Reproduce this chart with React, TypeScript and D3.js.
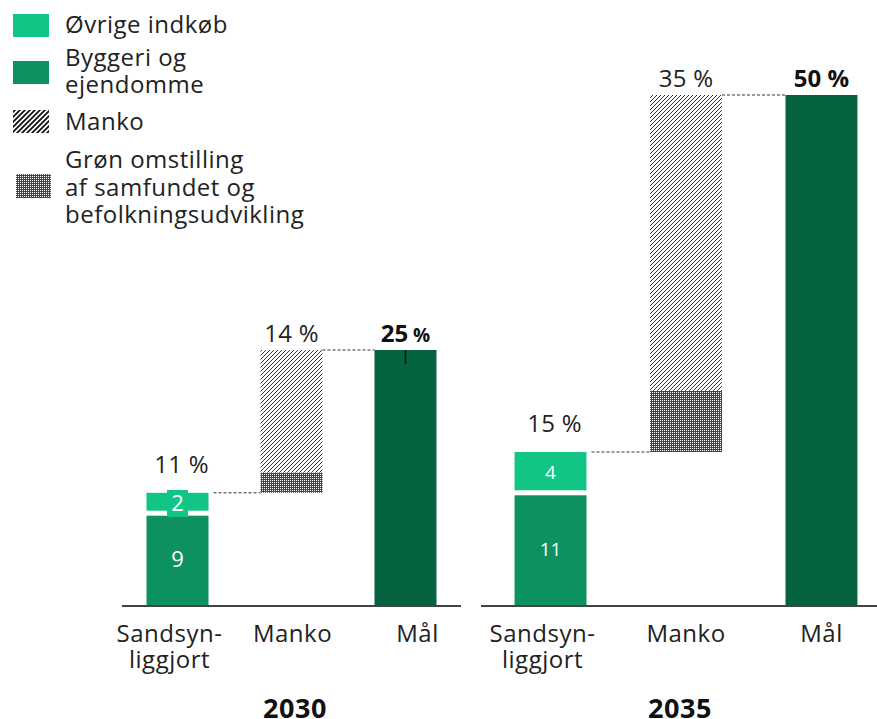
import React from 'react';
import * as d3 from 'd3';

const years = ['2030', '2035'];
const categories = ['Sandsynliggjort', 'Manko', 'Mål'];
const categoryLines = [['Sandsyn-', 'liggjort'], ['Manko'], ['Mål']];
const byggeri = [9, 11];
const oevrige = [2, 4];
const groenOmstilling = [2, 6];
const mankoHatched = [12, 29];
const targets = [25, 50];
const sandsynLabels = ['11 %', '15 %'];
const mankoLabels = ['14 %', '35 %'];
const targetNumbers = ['25', '50'];
const legendLabels = [
  ['Øvrige indkøb'],
  ['Byggeri og', 'ejendomme'],
  ['Manko'],
  ['Grøn omstilling', 'af samfundet og', 'befolkningsudvikling'],
];

const C_LIGHT = '#12c584';
const C_MID = '#0e9160';
const C_DARK = '#066340';
const FONT = "'Open Sans', 'DejaVu Sans', sans-serif";

const W = 877;
const H = 719;

const panels = [
  { range: [122, 461], base: [122, 461], pi: 0.456, po: 0.215, labelDx: [-8, 1, 12], labelSize: 22, tick: true },
  { range: [488, 884], base: [481, 877], pi: 0.469, po: 0.196, labelDx: [-8, 0, 0], labelSize: 19, tick: false },
];

const y = d3.scaleLinear().domain([0, 50]).range([605, 95]);

export default function App() {
  const tsize = 24;
  return (
    <svg width={W} height={H} style={{ position: 'absolute', left: 0, top: 0, background: '#fff' }} fontFamily={FONT}>
      <defs>
        <pattern id="hatch" patternUnits="userSpaceOnUse" width="4" height="4">
          <rect width="4" height="4" fill="#fff" />
          <path d="M-1,1 l2,-2 M0,4 l4,-4 M3,5 l2,-2" stroke="#333" strokeWidth="1" />
        </pattern>
        <pattern id="hatchLeg" patternUnits="userSpaceOnUse" width="5" height="5">
          <rect width="5" height="5" fill="#fff" />
          <path d="M-1,1 l2,-2 M0,5 l5,-5 M4,6 l2,-2" stroke="#111" strokeWidth="1.8" />
        </pattern>
        <pattern id="checker" patternUnits="userSpaceOnUse" width="2" height="2">
          <rect width="2" height="2" fill="#454545" />
          <rect width="1" height="1" fill="#fff" />
        </pattern>
      </defs>

      {/* Legend */}
      <g>
        <rect x={13} y={14} width={36} height={23} fill={C_LIGHT} />
        <rect x={13} y={61} width={36} height={23} fill={C_MID} />
        <rect x={13} y={110} width={36} height={23} fill="url(#hatchLeg)" />
        <rect x={16} y={174} width={35} height={24} fill="url(#checker)" />
        {[[33], [66, 93], [130], [168, 196, 223]].map((ys, i) =>
          legendLabels[i].map((t, j) => (
            <text key={`${i}-${j}`} x={65} y={ys[j]} fontSize={tsize} letterSpacing={0.5} fill="#222">{t}</text>
          ))
        )}
      </g>

      {years.map((yr, p) => {
        const cfg = panels[p];
        const x = d3.scaleBand<string>().domain(categories).range(cfg.range as [number, number])
          .paddingInner(cfg.pi).paddingOuter(cfg.po);
        const bw = x.bandwidth();
        const xs = x(categories[0])!;
        const xm = x(categories[1])!;
        const xt = x(categories[2])!;
        const sTotal = byggeri[p] + oevrige[p];
        const gTop = sTotal + groenOmstilling[p];
        const mTop = gTop + mankoHatched[p];
        const gap = 2.5;
        const cx = xs + bw / 2;
        const midDark = (y(0) + y(byggeri[p])) / 2;
        const midLight = (y(byggeri[p]) + y(sTotal)) / 2;
        return (
          <g key={yr}>
            {/* Sandsynliggjort stack */}
            <rect x={xs} y={y(byggeri[p]) + gap} width={bw} height={y(0) - y(byggeri[p]) - gap} fill={C_MID} />
            <rect x={xs} y={y(sTotal)} width={bw} height={y(byggeri[p]) - y(sTotal) - gap} fill={C_LIGHT} />
            {p === 0 && (
              <rect x={cx - 10.5} y={midLight - 13} width={21} height={27} fill={C_LIGHT} />
            )}
            <text x={cx} y={midDark} dy="0.35em" textAnchor="middle" fill="#fff" fontSize={cfg.labelSize}>{byggeri[p]}</text>
            <text x={cx} y={midLight} dy="0.35em" textAnchor="middle" fill="#fff" fontSize={cfg.labelSize}>{oevrige[p]}</text>
            <text x={cx + 4} y={y(sTotal) - 20} textAnchor="middle" fontSize={tsize} letterSpacing={0.3} fill="#222">{sandsynLabels[p]}</text>

            {/* connector to Manko */}
            <line x1={xs + bw + 5} x2={xm} y1={y(sTotal)} y2={y(sTotal)} stroke="#333" strokeWidth={1} strokeDasharray="3,2" />

            {/* Manko */}
            <rect x={xm} y={y(gTop)} width={bw} height={y(sTotal) - y(gTop)} fill="url(#checker)" />
            <rect x={xm} y={y(mTop)} width={bw} height={y(gTop) - y(mTop)} fill="url(#hatch)" />
            <text x={xm + bw / 2} y={y(mTop) - 8} textAnchor="middle" fontSize={tsize} letterSpacing={0.3} fill="#222">{mankoLabels[p]}</text>

            {/* connector to target */}
            <line x1={xm + bw} x2={xt} y1={y(targets[p])} y2={y(targets[p])} stroke="#333" strokeWidth={1} strokeDasharray="3,2" />

            {/* Target */}
            <rect x={xt} y={y(targets[p])} width={bw} height={y(0) - y(targets[p])} fill={C_DARK} />
            {cfg.tick && (
              <line x1={xt + bw / 2} x2={xt + bw / 2} y1={y(targets[p])} y2={y(targets[p]) + 14} stroke="#111" strokeWidth={1.5} />
            )}
            <text x={xt + bw / 2} y={y(targets[p]) - 8} textAnchor="middle" fontWeight="bold" fill="#111">
              <tspan fontSize={tsize}>{targetNumbers[p]}</tspan>
              <tspan fontSize={p === 0 ? 19 : tsize}>{' %'}</tspan>
            </text>

            {/* baseline */}
            <line x1={cfg.base[0]} x2={cfg.base[1]} y1={y(0) + 1} y2={y(0) + 1} stroke="#444" strokeWidth={2} />

            {/* category labels */}
            {categories.map((c, i) =>
              categoryLines[i].map((t, j) => (
                <text key={`${c}-${j}`} x={x(c)! + bw / 2 + cfg.labelDx[i]} y={642 + j * 26} textAnchor="middle" fontSize={tsize} letterSpacing={0.5} fill="#222">{t}</text>
              ))
            )}

            <text x={p === 0 ? 295 : 680} y={718} textAnchor="middle" fontSize={27} fontWeight="bold" letterSpacing={0.5} fill="#111">{yr}</text>
          </g>
        );
      })}
    </svg>
  );
}
